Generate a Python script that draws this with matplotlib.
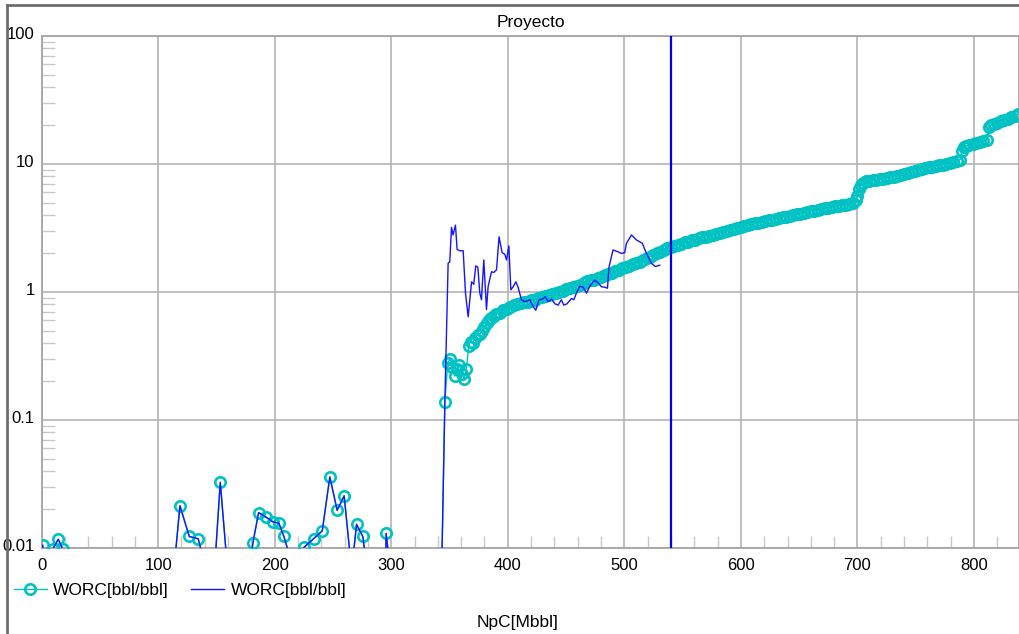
import matplotlib.pyplot as plt
from matplotlib.lines import Line2D
from matplotlib.transforms import ScaledTranslation
from matplotlib.ticker import LogLocator, MultipleLocator, FixedLocator, NullFormatter

plt.rcParams['font.family'] = ['Liberation Sans', 'DejaVu Sans']

# tramo inicial (NpC bajo), compartido por las dos curvas
npc_bajo = [0.9, 4, 9.5, 14.3, 18.2, 22, 113, 118.7, 126.7, 134.4, 139, 148, 153.3, 160,
            178, 181.3, 186.2, 192.7, 198.5, 203.6, 207.9, 214, 220, 225, 233.3, 240.8,
            247.3, 253.6, 259.6, 266, 270.2, 275.6, 279, 295, 295.6, 299, 343]
worc_bajo = [0.0105, 0.006, 0.0098, 0.0117, 0.0098, 0.005, 0.006, 0.0214, 0.0123, 0.0118, 0.008, 0.006, 0.0326, 0.006,
             0.006, 0.0110, 0.0189, 0.0174, 0.0160, 0.0156, 0.0123, 0.008, 0.006, 0.0101, 0.0118, 0.0136,
             0.0359, 0.0197, 0.0256, 0.0066, 0.0153, 0.0123, 0.007, 0.005, 0.0130, 0.007, 0.005]

# WORC con marcadores (historia completa)
npc_a = [346, 348.5, 350.5, 352.5, 354.5, 356.5, 358.5, 360.5, 362.5, 364.5,
         366.5, 368, 370, 372, 374, 376, 378, 380, 382, 384, 386, 388, 390, 393, 396, 399,
         402, 405, 408, 411, 414, 417, 420, 423, 426, 429, 432, 435, 438, 441, 444, 447,
         450, 453, 456, 459, 462, 465, 468, 471, 474, 477, 480, 483, 486, 489, 492, 495,
         498, 501, 504, 507, 510, 513, 516, 519, 522, 525, 528, 531, 534, 537, 540,
         543, 546, 549, 552, 555, 558, 561, 564, 567, 570, 573, 576, 579, 582, 585, 588,
         591, 594, 597, 600, 603, 606, 609, 612, 615, 618, 621, 624, 627, 630, 633, 636,
         639, 642, 645, 648, 651, 654, 657, 660, 663, 666, 669, 672, 675, 678, 681, 684,
         687, 690, 693, 696, 698.5, 700, 701.5, 703, 705, 707.5, 710, 713, 716, 719, 722,
         725, 728, 731, 734, 737, 740, 743, 746, 749, 752, 755, 758, 761, 764, 767, 770,
         773, 776, 779, 782, 785, 788, 789.5, 791, 793.5, 796, 799, 802, 805, 808, 811,
         813, 815, 817.5, 820, 823, 826, 829, 832, 835, 838]
worc_a = [0.139, 0.28, 0.30, 0.26, 0.22, 0.25, 0.27, 0.23, 0.21, 0.25,
          0.38, 0.41, 0.40, 0.44, 0.46, 0.47, 0.50, 0.53, 0.57, 0.60, 0.63, 0.65, 0.67, 0.69, 0.72, 0.74,
          0.77, 0.79, 0.80, 0.82, 0.83, 0.84, 0.86, 0.87, 0.89, 0.91, 0.93, 0.94, 0.96, 0.98, 1.00, 1.02,
          1.05, 1.08, 1.10, 1.12, 1.14, 1.18, 1.21, 1.23, 1.25, 1.29, 1.32, 1.35, 1.37, 1.41, 1.45, 1.49,
          1.53, 1.56, 1.61, 1.65, 1.69, 1.73, 1.78, 1.83, 1.89, 1.94, 2.00, 2.06, 2.13, 2.20, 2.26,
          2.30, 2.35, 2.39, 2.44, 2.48, 2.53, 2.57, 2.62, 2.67, 2.71, 2.75, 2.80, 2.85, 2.90, 2.94, 3.00,
          3.05, 3.11, 3.17, 3.23, 3.28, 3.33, 3.39, 3.44, 3.49, 3.53, 3.58, 3.63, 3.68, 3.73, 3.78, 3.83,
          3.87, 3.92, 3.98, 4.04, 4.10, 4.16, 4.22, 4.28, 4.33, 4.39, 4.45, 4.51, 4.56, 4.61, 4.66, 4.71,
          4.76, 4.81, 4.86, 4.93, 5.25, 5.6, 6.4, 6.8, 7.1, 7.3, 7.4, 7.5, 7.55, 7.6, 7.7,
          7.8, 7.85, 7.95, 8.05, 8.15, 8.3, 8.45, 8.6, 8.75, 8.9, 9.1, 9.25, 9.4, 9.55, 9.65, 9.75,
          9.9, 10.05, 10.2, 10.35, 10.5, 10.8, 12.6, 13.6, 13.9, 14.2, 14.4, 14.6, 14.8, 15.0, 15.4,
          19.5, 20.1, 20.6, 21.0, 21.5, 22.0, 22.6, 23.2, 23.9, 24.6]

# WORC sin marcadores (tramo con ruido)
npc_b = [346, 348.8, 350.2, 351.7, 353, 355.1, 356.5, 358.8, 361.7, 363.7, 366, 368.9, 370.8,
         372.5, 374.3, 376, 377.4, 379.4, 381.7, 383.1, 386, 388, 390.3, 392.5, 395.1, 397.4,
         398.9, 400.9, 402.6, 404.6, 406.9, 408.8, 411.7, 414.6, 418.9, 421.7, 424, 426.8,
         429.8, 432, 434.6, 437.5, 440.3, 443.1, 446, 448, 450.9, 454.6, 456.6, 458.9, 461.7,
         464.6, 467.5, 470.3, 474.6, 477.4, 480.3, 483.2, 485.5, 486.9, 490.3, 494.6, 497.5,
         500.3, 501.8, 506.1, 510.4, 515.5, 517.5, 520.3, 523.3, 526.7, 530.4]
worc_b = [0.139, 1.68, 1.72, 3.2, 2.79, 3.33, 2.15, 2.1, 2.1, 0.98, 0.64, 1.2, 1.15,
          1.6, 1.56, 0.98, 0.87, 1.78, 0.73, 1.1, 1.44, 1.42, 1.49, 2.7, 2.03, 1.97,
          1.78, 2.29, 1.04, 1.1, 1.2, 1.09, 0.87, 0.84, 0.87, 0.77, 0.72, 0.87,
          0.88, 0.92, 0.84, 0.88, 0.81, 0.79, 0.87, 0.79, 0.81, 0.89, 0.87, 0.98, 1.11,
          1.09, 0.98, 1.11, 1.24, 1.18, 1.1, 1.09, 1.07, 1.58, 2.13, 2.06, 2.0,
          2.03, 2.4, 2.79, 2.55, 2.4, 2.15, 1.89, 1.67, 1.58, 1.62]

npc_corte = 540

cian = '#00c2c2'
azul = '#1414ff'

fig = plt.figure(figsize=(10.19, 6.34), dpi=100)
ax = fig.add_axes([41.6 / 1019, 1 - 548 / 634, 1 - 41.6 / 1019, 512 / 634])

ax.plot(npc_bajo + npc_a, worc_bajo + worc_a, color=cian, lw=1, marker='o', ms=7.5,
        mfc='none', mec=cian, mew=1.9, label='WORC[bbl/bbl]', zorder=3)
ax.plot(npc_bajo + npc_b, worc_bajo + worc_b, color=azul, lw=1, label='WORC[bbl/bbl]', zorder=4)
ax.axvline(npc_corte, color='#0000ee', lw=1.6, zorder=5)

ax.set_yscale('log')
ax.set_ylim(0.01, 100)
ax.set_xlim(0, 838.6)

ax.xaxis.set_major_locator(MultipleLocator(100))
ax.xaxis.set_minor_locator(MultipleLocator(20))
ax.yaxis.set_major_locator(FixedLocator([0.01, 0.1, 1, 10, 100]))
ax.yaxis.set_minor_locator(LogLocator(base=10, subs=range(2, 10)))
ax.yaxis.set_minor_formatter(NullFormatter())
ax.set_yticklabels(['0.01', '0.1', '1', '10', '100'])

ax.grid(True, which='major', color='#b4b4b4', lw=1.2)
ax.tick_params(which='major', length=0, labelsize=12, pad=5)
ax.tick_params(axis='x', which='major', pad=7)
ax.tick_params(which='minor', direction='in', length=9, color='#c8c8c8', width=1)
ax.tick_params(axis='x', which='minor', top=False)
ax.tick_params(axis='y', which='minor', right=False)
for lado in ax.spines.values():
    lado.set_color('#a0a0a0')
    lado.set_linewidth(1.2)

# etiquetas del eje y un poco por encima de la grilla
subir = ScaledTranslation(0, 3 / 100, fig.dpi_scale_trans)
for etiqueta in ax.get_yticklabels():
    etiqueta.set_transform(etiqueta.get_transform() + subir)

fig.text(531 / 1019, 1 - 22 / 634, 'Proyecto', ha='center', va='center', fontsize=12.5)
fig.text(518 / 1019, 1 - 622 / 634, 'NpC[Mbbl]', ha='center', va='center', fontsize=12.5)

fig.legend(loc='center left', bbox_to_anchor=(14 / 1019, 1 - 590 / 634), ncol=2,
           frameon=False, fontsize=12.5, handlelength=1.9, handletextpad=0.35,
           columnspacing=1.3, borderaxespad=0, borderpad=0)

# marco exterior
fig.add_artist(Line2D([7 / 1019, 7 / 1019], [0, 1 - 5 / 634], color='#6e6e6e', lw=2))
fig.add_artist(Line2D([7 / 1019, 1], [1 - 5 / 634, 1 - 5 / 634], color='#6e6e6e', lw=2))

fig.savefig('out.png', dpi=100)
